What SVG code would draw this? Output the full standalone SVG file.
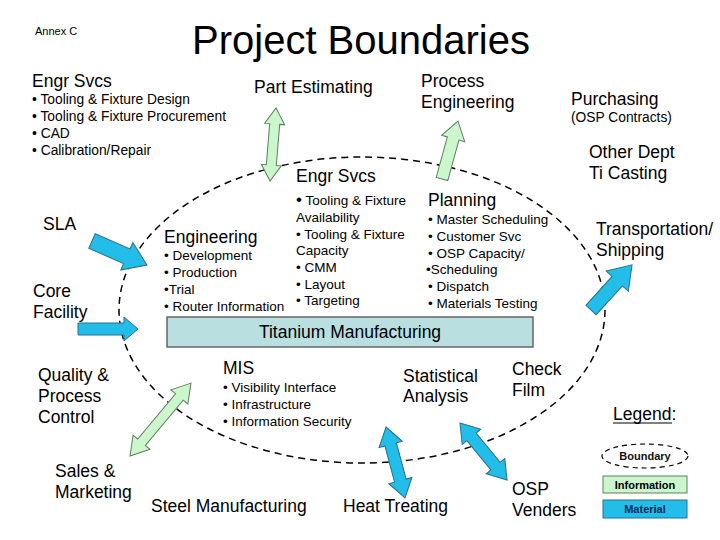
<svg xmlns="http://www.w3.org/2000/svg" width="720" height="540" viewBox="0 0 720 540">
<defs>
<style>
text{font-family:"Liberation Sans",Arial,sans-serif;fill:#000}
.t{font-size:17.5px}
.s{font-size:13.5px}
.m{font-size:13.8px}
.b{font-size:11px;font-weight:bold;text-anchor:middle}
.bd{fill:none;stroke:#000;stroke-width:1.5;stroke-dasharray:7 5}
.info{fill:#ccf7cc;stroke:#5e7e5e;stroke-width:1}
.mat{fill:#22bde8;stroke:#2a6f8a;stroke-width:1}
</style>
</defs>
<rect width="720" height="540" fill="#fff"/>
<text x="35" y="35" style="font-size:11px">Annex C</text>
<text x="192" y="54" style="font-size:40px">Project Boundaries</text>

<g id="boundary"><ellipse class="bd" cx="362" cy="310" rx="243" ry="153"/></g>

<g id="titanium">
<rect x="167" y="317" width="366" height="30" fill="#b9dfe1" stroke="#666" stroke-width="1.5"/>
<text class="t" x="350" y="338" text-anchor="middle">Titanium Manufacturing</text>
</g>

<g id="connectors">
<polygon class="info" transform="translate(270,181) rotate(-85.3)" points="0,0 16,-10 16,-5 57.2,-5 57.2,-10 73.2,0 57.2,10 57.2,5 16,5 16,10"/>
<polygon class="info" transform="translate(442,179) rotate(-74.6)" points="0,-6 42,-6 42,-12 60,0 42,12 42,6 0,6"/>
<polygon class="mat" transform="translate(92,241) rotate(23.6)" points="0,-8 38,-8 38,-15 60,0 38,15 38,8 0,8"/>
<polygon class="mat" transform="translate(78,329)" points="0,-6 46,-6 46,-12 60,0 46,12 46,6 0,6"/>
<polygon class="mat" transform="translate(591,310) rotate(-47.7)" points="0,-7 39,-7 39,-15 61,0 39,15 39,7 0,7"/>
<polygon class="info" transform="translate(130,456) rotate(-50.1)" points="0,0 18,-11 18,-5 77,-5 77,-11 95,0 77,11 77,5 18,5 18,11"/>
<polygon class="mat" transform="translate(386,427) rotate(75)" points="0,0 18,-12 18,-6 55.5,-6 55.5,-12 73.5,0 55.5,12 55.5,6 18,6 18,12"/>
<polygon class="mat" transform="translate(460,423) rotate(50.5)" points="0,0 18,-12 18,-6 55.9,-6 55.9,-12 73.9,0 55.9,12 55.9,6 18,6 18,12"/>
</g>

<g id="engr-svcs-outer">
<text class="t" x="32" y="87">Engr Svcs</text>
<text class="m" x="32" y="104">• Tooling &amp; Fixture Design</text>
<text class="m" x="32" y="121">• Tooling &amp; Fixture Procurement</text>
<text class="m" x="32" y="138">• CAD</text>
<text class="m" x="32" y="155">• Calibration/Repair</text>
</g>
<g id="part-estimating"><text class="t" x="254" y="93">Part Estimating</text></g>
<g id="process-engineering">
<text class="t" x="421" y="87">Process</text>
<text class="t" x="421" y="108">Engineering</text>
</g>
<g id="purchasing">
<text class="t" x="571" y="105">Purchasing</text>
<text class="m" x="571" y="122">(OSP Contracts)</text>
</g>
<g id="other-dept">
<text class="t" x="589" y="158">Other Dept</text>
<text class="t" x="589" y="179">Ti Casting</text>
</g>
<g id="sla"><text class="t" x="43" y="230">SLA</text></g>
<g id="core-facility">
<text class="t" x="33" y="297">Core</text>
<text class="t" x="33" y="318">Facility</text>
</g>
<g id="engineering">
<text class="t" x="164" y="243">Engineering</text>
<text class="s" x="164" y="260">• Development</text>
<text class="s" x="164" y="277">• Production</text>
<text class="s" x="164" y="294">•Trial</text>
<text class="s" x="164" y="311">• Router Information</text>
</g>
<g id="engr-svcs-inner">
<text class="t" x="296" y="182">Engr Svcs</text>
<text class="s" x="296" y="205"><tspan style="font-size:17px">•</tspan> Tooling &amp; Fixture</text>
<text class="s" x="296" y="222">Availability</text>
<text class="s" x="296" y="239">• Tooling &amp; Fixture</text>
<text class="s" x="296" y="255">Capacity</text>
<text class="s" x="296" y="272">• CMM</text>
<text class="s" x="296" y="289">• Layout</text>
<text class="s" x="296" y="305">• Targeting</text>
</g>
<g id="planning">
<text class="t" x="428" y="206">Planning</text>
<text class="s" x="428" y="224">• Master Scheduling</text>
<text class="s" x="428" y="241">• Customer Svc</text>
<text class="s" x="428" y="258">• OSP Capacity/</text>
<text class="s" x="426" y="274">•Scheduling</text>
<text class="s" x="428" y="291">• Dispatch</text>
<text class="s" x="428" y="308">• Materials Testing</text>
</g>
<g id="transportation">
<text class="t" x="596" y="235">Transportation/</text>
<text class="t" x="596" y="256">Shipping</text>
</g>
<g id="mis">
<text class="t" x="223" y="374">MIS</text>
<text class="s" x="223" y="392">• Visibility Interface</text>
<text class="s" x="223" y="409">• Infrastructure</text>
<text class="s" x="223" y="426">• Information Security</text>
</g>
<g id="statistical">
<text class="t" x="403" y="382">Statistical</text>
<text class="t" x="403" y="402">Analysis</text>
</g>
<g id="check-film">
<text class="t" x="512" y="375">Check</text>
<text class="t" x="512" y="396">Film</text>
</g>
<g id="quality">
<text class="t" x="38" y="381">Quality &amp;</text>
<text class="t" x="38" y="402">Process</text>
<text class="t" x="38" y="423">Control</text>
</g>
<g id="sales">
<text class="t" x="55" y="477">Sales &amp;</text>
<text class="t" x="55" y="498">Marketing</text>
</g>
<g id="steel"><text class="t" x="151" y="512">Steel Manufacturing</text></g>
<g id="heat"><text class="t" x="343" y="512">Heat Treating</text></g>
<g id="osp-venders">
<text class="t" x="512" y="495">OSP</text>
<text class="t" x="512" y="516">Venders</text>
</g>

<g id="legend">
<text class="t" x="613" y="420">Legend:</text>
<line x1="613" y1="423" x2="672" y2="423" stroke="#000" stroke-width="1"/>
<ellipse class="bd" cx="645" cy="456" rx="43" ry="12" style="stroke-width:1.2;stroke-dasharray:5 4"/>
<text class="b" x="645" y="460" style="fill:#111">Boundary</text>
<rect class="info" x="603" y="476" width="84" height="17"/>
<text class="b" x="645" y="489">Information</text>
<rect class="mat" x="603" y="500" width="84" height="18"/>
<text class="b" x="645" y="513" style="fill:#0b2a55">Material</text>
</g>
</svg>
